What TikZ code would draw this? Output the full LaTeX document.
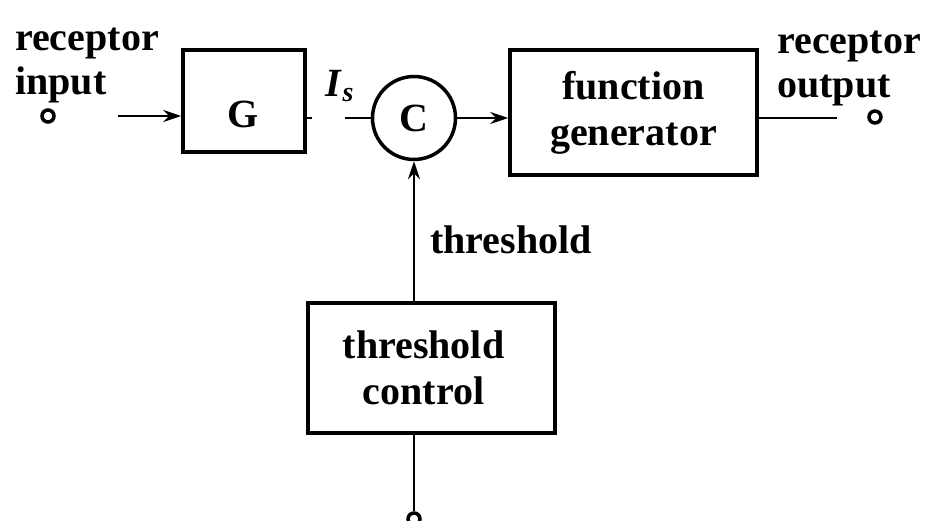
\documentclass[tikz,border=0pt]{standalone}
\usepackage{fontspec}
\setmainfont{Liberation Serif}
\usetikzlibrary{arrows.meta}
\begin{document}
\begin{tikzpicture}[x=1pt,y=-1pt,
  txt/.style={font=\fontsize{40}{44}\selectfont\bfseries, inner sep=0pt, align=left},
  blk/.style={draw, line width=3.5pt, inner sep=0pt, font=\fontsize{40}{46}\selectfont\bfseries, align=center},
  con/.style={line width=2.4pt},
  tip/.style={-{Stealth[length=18pt,width=12pt]}},
  term/.style={circle, draw, line width=3.5pt, minimum size=12pt, inner sep=0pt}]
\useasboundingbox (0,0) rectangle (943,521);
% blocks
\node[blk, minimum width=122pt, minimum height=102pt] (G) at (244,101) {};
\node[txt] (Glbl) at (243,114) {G};
\node[blk, circle, minimum size=83pt] (C) at (414,118) {C};
\node[blk, minimum width=247pt, minimum height=125pt] (F) at (633.5,112.5) {function\\generator};
\node[blk, minimum width=247pt, minimum height=130pt, text width=230pt, align=center] (T) at (431.5,368) {\hspace*{-16pt}threshold\\\hspace*{-16pt}control};
% labels
\node[txt, anchor=west] (inlbl) at (15,66) {receptor\\input};
\node[txt, anchor=west] (outlbl) at (777,69) {receptor\\output};
\node[txt] (Is) at (340,86) {\textit{I}\textsubscript{\textit{s}}};
\node[txt, anchor=west] (thlbl) at (430,240) {threshold};
% terminals
\node[term] (tin) at (48,116) {};
\node[term] (tout) at (875,117) {};
\node[term] (tbot) at (414,519) {};
% connectors
\coordinate (inA) at (118,116);
\coordinate (cin) at (345,118);
\coordinate (outA) at (837,118);
\draw[con,tip] (inA) -- (inA -| G.west);
\draw[con] (G.east |- cin) -- ++(5,0);
\draw[con] (cin) -- (C.west);
\draw[con,tip] (C.east) -- (F.west |- C.east);
\draw[con] (F.east |- C.east) -- (outA);
\draw[con,tip] (C.south |- T.north) -- (C.south);
\draw[con] (T.south -| tbot.north) -- (tbot.north);
\end{tikzpicture}
\end{document}
